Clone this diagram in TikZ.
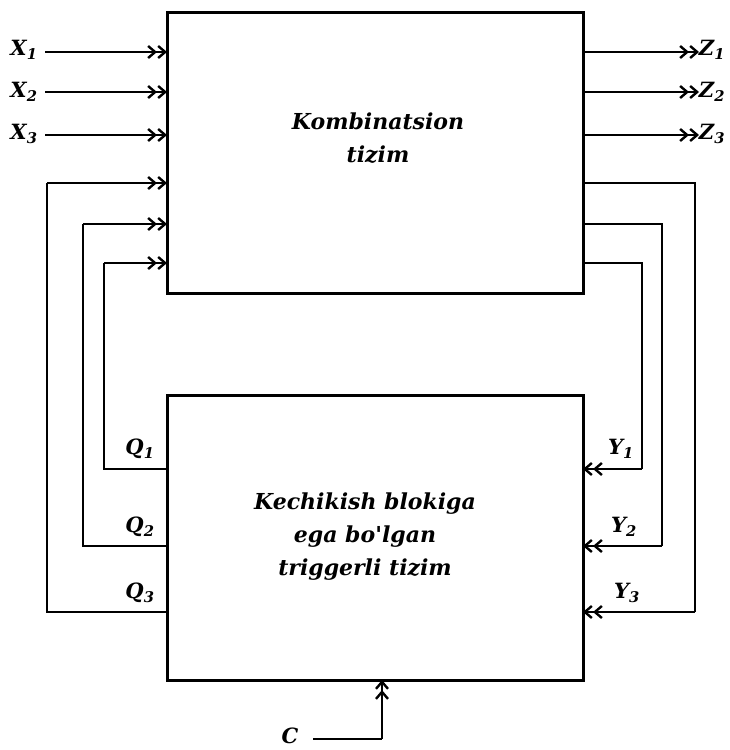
\documentclass[tikz,border=0pt]{standalone}
\usepackage{fontspec}
\setmainfont{DejaVu Serif}
\usetikzlibrary{arrows.meta}
\tikzset{
  wire/.style={line width=2.8pt},
  arr/.style={wire,-{Straight Barb[length=7pt,width=12pt,line width=2.4pt]Straight Barb[length=7pt,width=12pt,line width=2.4pt]}},
  block/.style={draw,line width=3pt,inner sep=0pt},
  lbl/.style={font=\fontsize{21}{24}\selectfont\bfseries\itshape,inner sep=0pt},
  title/.style={font=\fontsize{22}{33}\selectfont\bfseries\itshape,align=center,inner sep=0pt}
}
\newcommand{\sub}[1]{\textsubscript{#1}}
\begin{document}
\begin{tikzpicture}[x=1pt,y=-1pt]
\useasboundingbox (0,0) rectangle (729,750);
% blocks
\draw[block] (167,12) rectangle (583,293);
\draw[block] (167,395) rectangle (583,680);
\node[title] (kt) at (378,138) {Kombinatsion\\tizim};
\node[title] (tt) at (365,537) {Kechikish blokiga\\ega bo\textquotesingle lgan\\triggerli tizim};
% inputs
\node[lbl] (x1) at (24,50) {X\sub{1}};
\node[lbl] (x2) at (24,92) {X\sub{2}};
\node[lbl] (x3) at (24,134) {X\sub{3}};
\draw[arr] (45,52) -- (167,52);
\draw[arr] (45,92) -- (167,92);
\draw[arr] (45,135) -- (167,135);
% outputs
\node[lbl] (z1) at (712,50) {Z\sub{1}};
\node[lbl] (z2) at (712,92) {Z\sub{2}};
\node[lbl] (z3) at (712,134) {Z\sub{3}};
\draw[arr] (583,52) -- (699,52);
\draw[arr] (583,92) -- (699,92);
\draw[arr] (583,135) -- (699,135);
% feedback left Q
\node[lbl] (q1) at (140,449) {Q\sub{1}};
\node[lbl] (q2) at (140,527) {Q\sub{2}};
\node[lbl] (q3) at (140,593) {Q\sub{3}};
\draw[wire] (167,469) -- (104,469) -- (104,263);
\draw[arr] (104,263) -- (167,263);
\draw[wire] (167,546) -- (83,546) -- (83,224);
\draw[arr] (83,224) -- (167,224);
\draw[wire] (167,612) -- (47,612) -- (47,183);
\draw[arr] (47,183) -- (167,183);
% feedback right Y
\node[lbl] (y1) at (621,449) {Y\sub{1}};
\node[lbl] (y2) at (624,527) {Y\sub{2}};
\node[lbl] (y3) at (627,593) {Y\sub{3}};
\draw[wire] (583,263) -- (642,263) -- (642,469);
\draw[arr] (642,469) -- (583,469);
\draw[wire] (583,224) -- (662,224) -- (662,546);
\draw[arr] (662,546) -- (583,546);
\draw[wire] (583,183) -- (695,183) -- (695,612);
\draw[arr] (695,612) -- (583,612);
% clock
\node[lbl] (c) at (290,736) {C};
\draw[wire] (313,739) -- (382,739);
\draw[arr] (382,739) -- (382,680);
\end{tikzpicture}
\end{document}
